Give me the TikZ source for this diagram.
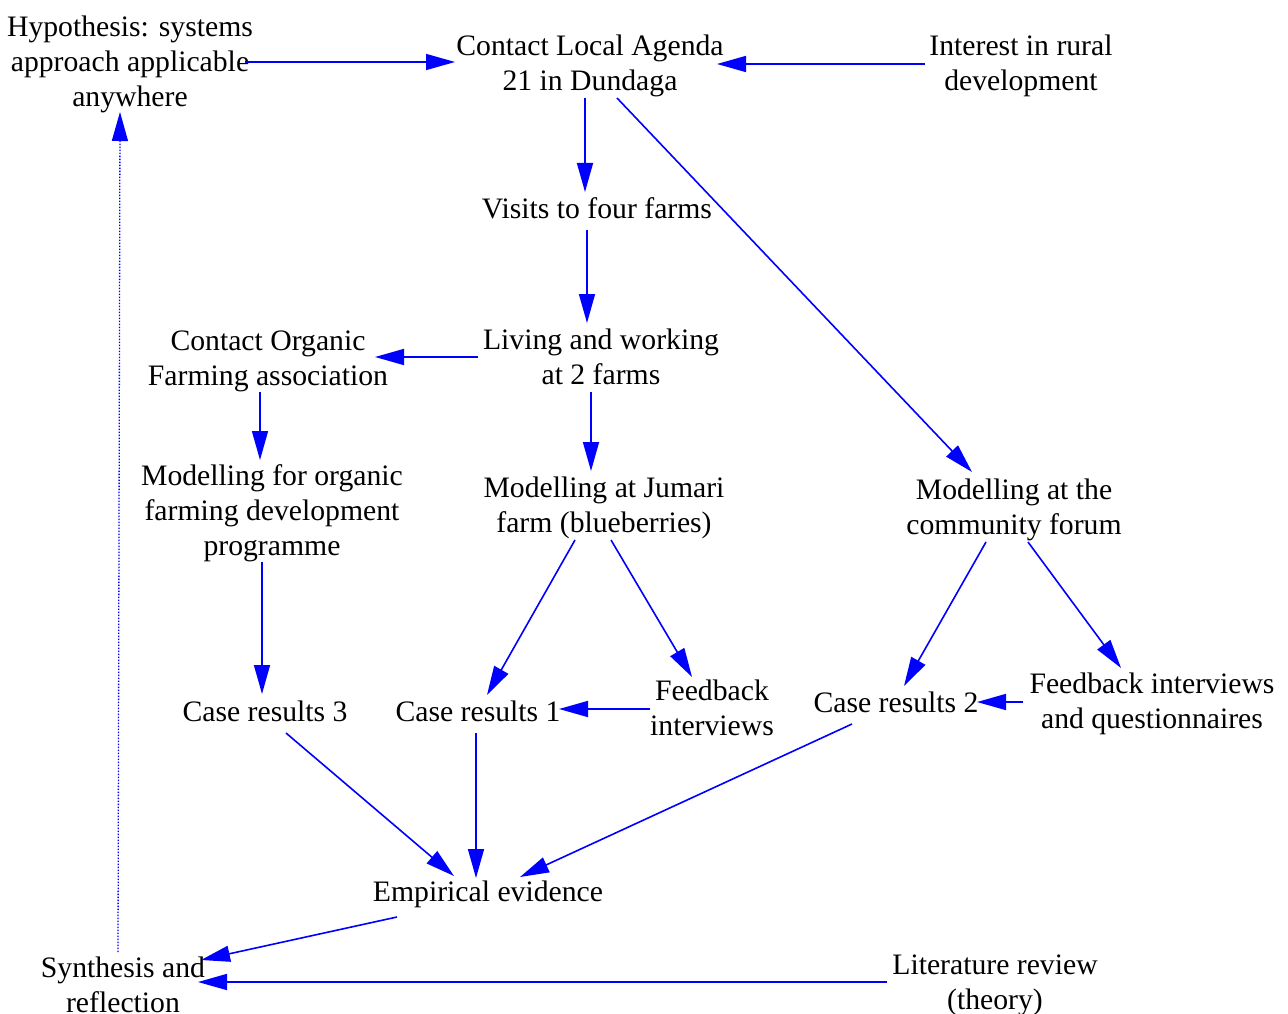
\documentclass[tikz,border=0pt]{standalone}
\usepackage{fontspec}
\setmainfont{Liberation Serif}
\usetikzlibrary{arrows.meta}
\definecolor{edgeblue}{RGB}{0,0,255}
\tikzset{
  lbl/.style={align=center, inner sep=0pt, font=\fontsize{29.7}{35}\selectfont},
  flow/.style={draw=edgeblue, line width=1.6pt, -{Triangle[length=29pt,width=16pt]}, fill=none},
  backflow/.style={draw=edgeblue, line width=1.3pt, dash pattern=on 1.4pt off 1.6pt, -{Triangle[length=29pt,width=16pt,fill=edgeblue]}}
}
\begin{document}
\begin{tikzpicture}[x=1pt, y=-1pt]
\useasboundingbox (0,0) rectangle (1288,1014);
% nodes
\node[lbl] (hyp) at (130,64) {Hypothesis: systems\\approach applicable\\anywhere};
\node[lbl] (la21) at (590,66) {Contact Local Agenda\\21 in Dundaga};
\node[lbl] (interest) at (1021,66) {Interest in rural\\development};
\node[lbl] (visits) at (597,208) {Visits to four farms};
\node[lbl] (living) at (601,357) {Living and working\\at 2 farms};
\node[lbl] (corg) at (268,361) {Contact Organic\\Farming association};
\node[lbl] (morg) at (272,513) {Modelling for organic\\farming development\\programme};
\node[lbl] (jumari) at (604,508) {Modelling at Jumari\\farm (blueberries)};
\node[lbl] (forum) at (1014,510) {Modelling at the\\community forum};
\node[lbl] (case3) at (265,711) {Case results 3};
\node[lbl] (case1) at (478,711) {Case results 1};
\node[lbl] (fb1) at (712,708) {Feedback\\interviews};
\node[lbl] (case2) at (896,702) {Case results 2};
\node[lbl] (fbq) at (1152,704) {Feedback interviews\\and questionnaires};
\node[lbl] (emp) at (488,894) {Empirical evidence};
\node[lbl] (syn) at (123,985) {Synthesis and\\reflection};
\node[lbl] (lit) at (995,985) {Literature review\\(theory)};
% connectors
\draw[flow] ([shift={(115,-2)}]hyp.center) -- ([shift={(-135,-4)}]la21.center);
\draw[flow] ([shift={(-96,-2)}]interest.center) -- ([shift={(127,-2)}]la21.center);
\draw[flow] ([shift={(-5,32)}]la21.center) -- ([shift={(-12,-16)}]visits.center);
\draw[flow] ([shift={(27,32)}]la21.center) -- ([shift={(-42,-38)}]forum.center);
\draw[flow] ([shift={(-10,22)}]visits.center) -- ([shift={(-14,-34)}]living.center);
\draw[flow] ([shift={(-123,0)}]living.center) -- ([shift={(107,-4)}]corg.center);
\draw[flow] ([shift={(-10,35)}]living.center) -- ([shift={(-13,-37)}]jumari.center);
\draw[flow] ([shift={(-8,31)}]corg.center) -- ([shift={(-12,-53)}]morg.center);
\draw[flow] ([shift={(-10,49)}]morg.center) -- ([shift={(-3,-17)}]case3.center);
\draw[flow] ([shift={(-29,32)}]jumari.center) -- ([shift={(9,-16)}]case1.center);
\draw[flow] ([shift={(7,32)}]jumari.center) -- ([shift={(-20,-31)}]fb1.center);
\draw[flow] ([shift={(-62,1)}]fb1.center) -- ([shift={(81,-2)}]case1.center);
\draw[flow] ([shift={(-28,32)}]forum.center) -- ([shift={(8,-16)}]case2.center);
\draw[flow] ([shift={(14,32)}]forum.center) -- ([shift={(-31,-36)}]fbq.center);
\draw[flow] ([shift={(-129,-2)}]fbq.center) -- ([shift={(81,0)}]case2.center);
\draw[flow] ([shift={(21,22)}]case3.center) -- ([shift={(-34,-18)}]emp.center);
\draw[flow] ([shift={(-2,22)}]case1.center) -- ([shift={(-12,-16)}]emp.center);
\draw[flow] ([shift={(-44,22)}]case2.center) -- ([shift={(32,-17)}]emp.center);
\draw[flow] ([shift={(-91,23)}]emp.center) -- ([shift={(78,-25)}]syn.center);
\draw[flow] ([shift={(-108,-3)}]lit.center) -- ([shift={(75,-3)}]syn.center);
\draw[backflow] ([shift={(-5,-33)}]syn.center) -- ([shift={(-10,48)}]hyp.center);
\end{tikzpicture}
\end{document}
